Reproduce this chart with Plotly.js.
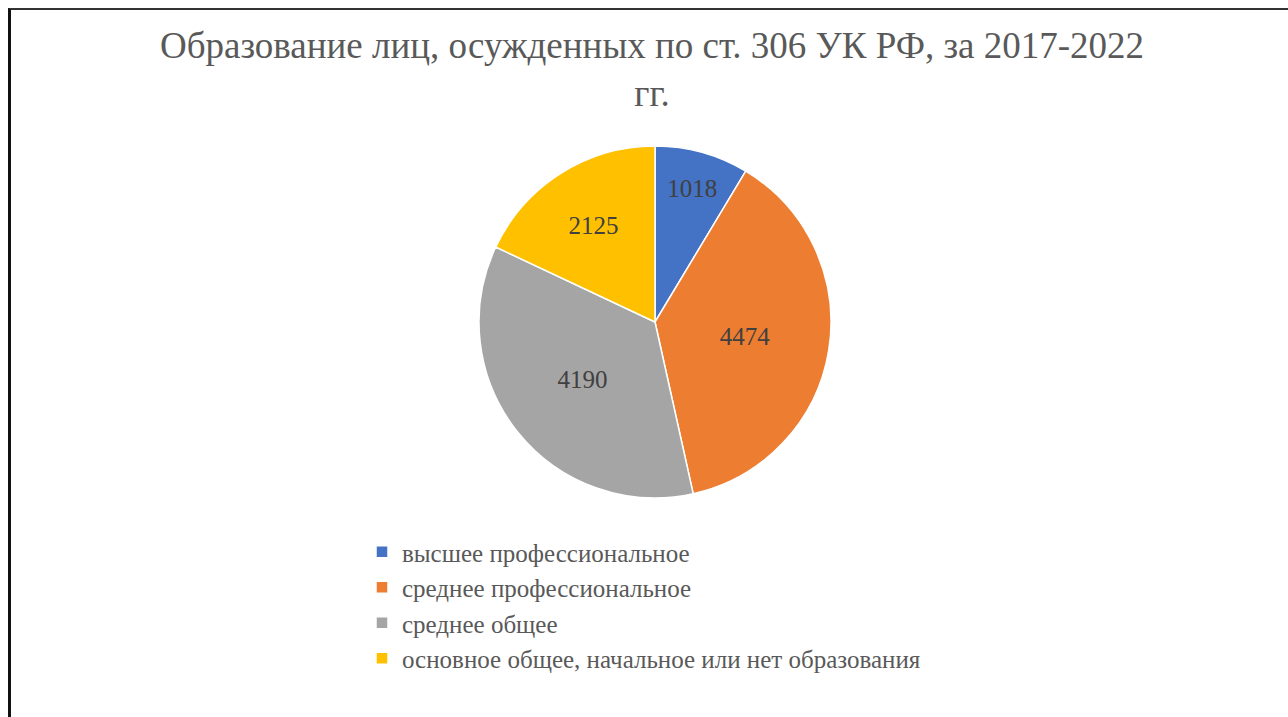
<!DOCTYPE html>
<html>
<head>
<meta charset="utf-8">
<script src="https://cdn.plot.ly/plotly-3.0.1.min.js"></script>
<style>
  html, body { margin: 0; padding: 0; background: #fff; }
  #wrap { position: relative; width: 1288px; height: 717px; overflow: hidden; }
  #chart { width: 1288px; height: 717px; }
  #frame { position: absolute; left: 8px; top: 8px; width: 1300px; height: 720px;
           border-left: 3px solid #111; border-top: 2px solid #333; pointer-events: none; }
</style>
</head>
<body>
<div id="wrap">
  <div id="chart"></div>
  <div id="frame"></div>
</div>
<script>
const categories = [
  "высшее профессиональное",
  "среднее профессиональное",
  "среднее общее",
  "основное общее, начальное или нет образования"
];
const values = [1018, 4474, 4190, 2125];
const colors = ["#4472C4", "#ED7D31", "#A5A5A5", "#FFC000"];
const titleText = "Образование лиц, осужденных по ст. 306 УК РФ, за 2017-2022<br>гг.";

const W = 1288, H = 717;
const cx = 655, cy = 322, r = 176;
const serif = "'Liberation Serif', 'Times New Roman', Times, serif";

const trace = {
  type: "pie",
  labels: categories,
  values: values,
  sort: false,
  direction: "clockwise",
  rotation: 0,
  marker: { colors: colors, line: { color: "#ffffff", width: 1.5 } },
  textinfo: "value",
  textposition: "inside",
  insidetextorientation: "horizontal",
  textfont: { family: serif, size: 25, color: "#404040" },
  hoverinfo: "label+value+percent",
  domain: {
    x: [(cx - r) / W, (cx + r) / W],
    y: [1 - (cy + r) / H, 1 - (cy - r) / H]
  }
};

const layout = {
  width: W, height: H,
  margin: { l: 0, r: 0, t: 0, b: 0 },
  paper_bgcolor: "#ffffff",
  font: { family: serif },
  title: {
    text: titleText,
    font: { family: serif, size: 37, color: "#595959" },
    x: 652 / W, xanchor: "center", xref: "container",
    y: 1 - 58 / H, yanchor: "middle", yref: "container"
  },
  showlegend: true,
  legend: {
    x: 362 / W, xanchor: "left",
    y: 1 - 529 / H, yanchor: "top",
    font: { family: serif, size: 25, color: "#595959" },
    itemwidth: 30,
    tracegroupgap: 0
  }
};

Plotly.newPlot("chart", [trace], layout, { displayModeBar: false });
</script>
</body>
</html>
